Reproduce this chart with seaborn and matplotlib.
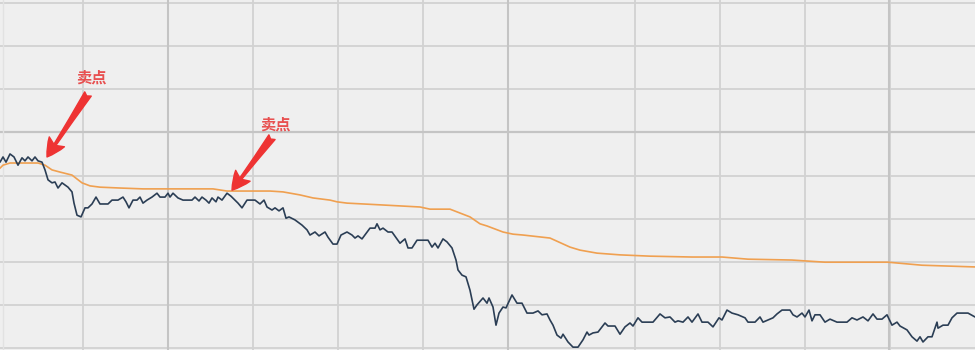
import matplotlib
matplotlib.use("Agg")
import matplotlib.pyplot as plt
import seaborn as sns
import pandas as pd

# ---- data ----
t_price = [0, 3, 6, 10, 14, 18, 22, 25, 28, 32, 35, 38, 42, 45, 48, 52, 55, 58, 62, 68, 72, 74, 77, 81,
           85, 88, 92, 96, 100, 108, 112, 118, 123, 126, 129, 133, 137, 140, 143, 147, 152, 157, 160, 165,
           168, 170, 173, 178, 183, 192, 195, 199, 202, 206, 209, 212, 216, 218, 222, 227, 231, 235, 238,
           242, 247, 255, 260, 264, 267, 272, 275, 279, 283, 286, 289, 295, 302, 307, 310, 315, 319, 325,
           328, 333, 337, 341, 347, 352, 355, 358, 362, 370, 375, 377, 380, 383, 388, 392, 400, 405, 408,
           412, 417, 428, 432, 435, 438, 443, 447, 452, 456, 458, 462, 466, 470, 474, 477, 483, 487, 489,
           493, 496, 499, 503, 506, 512, 517, 522, 527, 533, 538, 542, 547, 550, 553, 557, 561, 563, 568,
           573, 578, 583, 587, 589, 593, 598, 605, 608, 615, 620, 625, 630, 633, 638, 642, 650, 653, 660,
           665, 670, 675, 678, 683, 688, 692, 698, 702, 708, 713, 719, 722, 727, 732, 738, 745, 748, 755,
           760, 763, 773, 777, 782, 790, 793, 797, 802, 805, 809, 812, 815, 820, 825, 830, 837, 847, 852,
           857, 863, 868, 873, 877, 882, 887, 892, 897, 900, 907, 912, 917, 920, 923, 928, 932, 937, 938,
           943, 948, 952, 957, 968, 975]
price = [4.31, 4.43, 4.31, 4.50, 4.43, 4.24, 4.41, 4.34, 4.43, 4.34, 4.43, 4.34, 4.31, 4.13, 3.90, 3.83,
         3.85, 3.71, 3.83, 3.73, 3.62, 3.36, 3.08, 3.04, 3.25, 3.25, 3.34, 3.50, 3.34, 3.34, 3.43, 3.43,
         3.50, 3.39, 3.25, 3.43, 3.43, 3.50, 3.36, 3.43, 3.50, 3.59, 3.50, 3.50, 3.59, 3.50, 3.59, 3.48,
         3.43, 3.43, 3.50, 3.41, 3.50, 3.43, 3.36, 3.48, 3.39, 3.50, 3.43, 3.59, 3.52, 3.43, 3.36, 3.25,
         3.43, 3.43, 3.34, 3.43, 3.27, 3.20, 3.25, 3.18, 3.25, 3.01, 3.04, 2.97, 2.85, 2.74, 2.62, 2.69,
         2.60, 2.69, 2.57, 2.41, 2.41, 2.62, 2.69, 2.62, 2.55, 2.60, 2.53, 2.78, 2.78, 2.88, 2.74, 2.78,
         2.69, 2.69, 2.43, 2.53, 2.32, 2.32, 2.50, 2.50, 2.34, 2.43, 2.32, 2.53, 2.46, 2.32, 2.04, 1.81,
         1.69, 1.65, 1.34, 0.90, 1.00, 1.16, 1.04, 1.16, 0.95, 0.53, 0.81, 0.95, 0.93, 1.23, 1.04, 1.04,
         0.81, 0.81, 0.86, 0.77, 0.79, 0.65, 0.53, 0.30, 0.23, 0.32, 0.14, 0.02, 0.02, 0.19, 0.37, 0.30,
         0.35, 0.37, 0.58, 0.51, 0.51, 0.32, 0.49, 0.58, 0.51, 0.70, 0.60, 0.60, 0.60, 0.79, 0.70, 0.72,
         0.60, 0.63, 0.60, 0.72, 0.60, 0.79, 0.60, 0.60, 0.49, 0.70, 0.65, 0.88, 0.81, 0.77, 0.70, 0.60,
         0.60, 0.72, 0.60, 0.70, 0.79, 0.88, 0.88, 0.77, 0.72, 0.81, 0.72, 0.88, 0.63, 0.77, 0.77, 0.60,
         0.67, 0.60, 0.60, 0.70, 0.65, 0.72, 0.63, 0.79, 0.67, 0.67, 0.77, 0.53, 0.60, 0.51, 0.42, 0.26,
         0.16, 0.26, 0.14, 0.26, 0.26, 0.60, 0.46, 0.53, 0.53, 0.70, 0.81, 0.81, 0.72]

t_ma = [0, 3, 10, 38, 45, 52, 60, 72, 82, 90, 100, 120, 143, 213, 227, 270, 283, 300, 313, 330, 337,
        347, 380, 420, 430, 450, 470, 480, 487, 503, 513, 523, 550, 570, 580, 597, 620, 650, 692, 722,
        748, 792, 825, 888, 922, 975]
ma = [4.17, 4.24, 4.29, 4.29, 4.24, 4.13, 4.08, 4.01, 3.83, 3.76, 3.73, 3.71, 3.69, 3.69, 3.64, 3.64,
      3.62, 3.55, 3.48, 3.43, 3.39, 3.36, 3.32, 3.27, 3.22, 3.22, 3.04, 2.88, 2.83, 2.69, 2.64, 2.62,
      2.55, 2.34, 2.27, 2.20, 2.16, 2.13, 2.11, 2.11, 2.06, 2.04, 1.99, 1.99, 1.92, 1.88]

sell_t = [47, 232]
sell_v = [4.43, 3.66]
sell_label = "卖点"

grid_t = [83, 168, 253, 338, 423, 508, 635, 720, 805, 890]
grid_t_strong = [168, 508, 889]

df_price = pd.DataFrame({"t": t_price, "v": price})
df_ma = pd.DataFrame({"t": t_ma, "v": ma})

# ---- figure ----
sns.set_style("white")
plt.rcParams["font.family"] = ["Noto Sans CJK SC", "DejaVu Sans"]

fig = plt.figure(figsize=(9.75, 3.5), dpi=100)
ax = fig.add_axes([0, 0, 1, 1])
ax.set_facecolor("#efefef")
fig.patch.set_facecolor("#efefef")

ax.set_xlim(0, 975)
ax.set_ylim(-0.046, 8.07)
ax.set_xticks(grid_t)
ax.set_yticks(range(0, 9))
ax.grid(True, color="#d2d2d2", linewidth=1.3)
ax.tick_params(length=0, labelbottom=False, labelleft=False)
for s in ax.spines.values():
    s.set_visible(False)
for g in grid_t_strong:
    ax.axvline(g, color="#c4c4c4", linewidth=1.5, zorder=0.6)
ax.axhline(5, color="#c4c4c4", linewidth=1.6, zorder=0.6)
ax.axvline(3, color="#e2e2e2", linewidth=1.0, zorder=0.6)
ax.set_axisbelow(True)

sns.lineplot(data=df_ma, x="t", y="v", ax=ax, color="#f0a050", linewidth=1.2, estimator=None, sort=False)
sns.lineplot(data=df_price, x="t", y="v", ax=ax, color="#2b3e55", linewidth=1.2, estimator=None, sort=False)
ax.set_xlabel("")
ax.set_ylabel("")

arrow_off = [(41, 63), (40, 53)]
text_off = [(44, 79), (43, 66)]
for t, v, ao, to in zip(sell_t, sell_v, arrow_off, text_off):
    ax.annotate("", xy=(t, v), xytext=ao, textcoords="offset pixels",
                arrowprops=dict(arrowstyle="fancy,head_length=0.65,head_width=0.65,tail_width=0.28",
                                color="#ee3333", mutation_scale=20, shrinkA=0, shrinkB=0))
    ax.annotate(sell_label, xy=(t, v), xytext=to, textcoords="offset pixels",
                ha="center", va="center", fontsize=11, fontweight="bold", color="#e85050")

fig.savefig("out.png", dpi=100, facecolor=fig.get_facecolor())
